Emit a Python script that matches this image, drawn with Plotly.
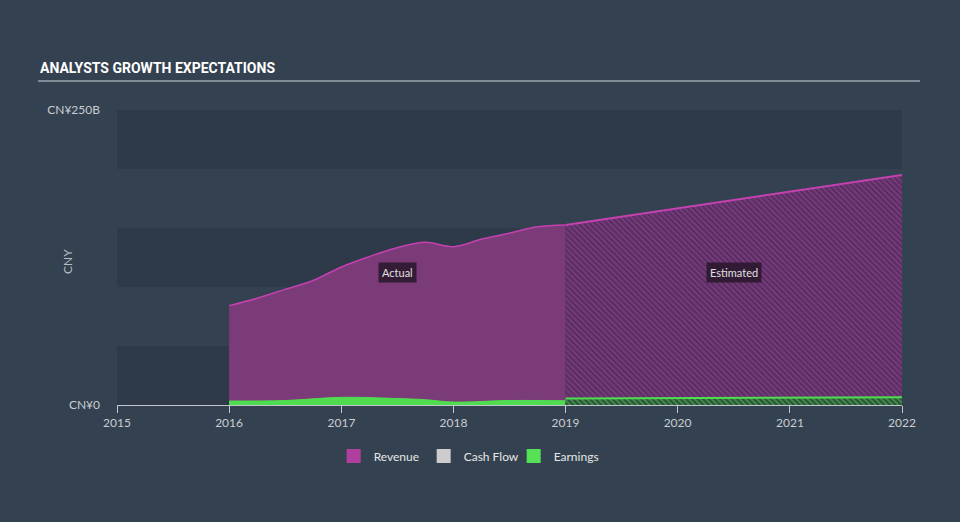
import plotly.graph_objects as go

# ---- data (CNY billions) ----
rev_actual_dates = ["2016-01-01", "2016-04-01", "2016-07-01", "2016-10-01", "2017-01-01",
                    "2017-04-01", "2017-07-01", "2017-10-01", "2018-01-01", "2018-04-01",
                    "2018-07-01", "2018-10-01", "2019-01-01"]
rev_actual = [84.2, 90.4, 98.0, 105.5, 117.0, 125.7, 133.3, 137.9, 134.2, 140.4, 145.5, 151.0, 152.5]

est_dates = ["2019-01-01", "2020-01-01", "2021-01-01", "2022-01-01"]
rev_est = [152.5, 166.8, 180.8, 195.0]

earn_actual_dates = ["2016-01-01", "2016-07-01", "2017-01-01", "2017-07-01", "2017-10-01",
                     "2018-01-01", "2018-07-01", "2019-01-01"]
earn_actual = [3.4, 3.8, 6.5, 5.5, 4.5, 2.5, 3.8, 3.6]
earn_est = [5.5, 5.8, 6.2, 6.5]

year_ticks = ["2015-01-01", "2016-01-01", "2017-01-01", "2018-01-01", "2019-01-01",
              "2020-01-01", "2021-01-01", "2022-01-01"]
year_labels = ["2015", "2016", "2017", "2018", "2019", "2020", "2021", "2022"]
y_tickvals = [0, 250]
y_ticktext = ["CN¥0", "CN¥250B"]
band_edges = [0, 50, 100, 150, 200, 250]

BG = "#344150"
BAND = "#2e3a49"
REV_LINE = "#c442b0"
REV_FILL = "#7b3a78"
EARN = "#50dc50"
FONT = "Lato, 'Open Sans', sans-serif"

fig = go.Figure()

# Revenue actual
fig.add_trace(go.Scatter(x=rev_actual_dates, y=rev_actual, mode="lines", fill="tozeroy",
                         fillcolor=REV_FILL, line=dict(color=REV_LINE, width=1.5, shape="spline", smoothing=1.0),
                         showlegend=False, hoverinfo="skip"))
# Revenue estimated (hatched)
fig.add_trace(go.Scatter(x=est_dates, y=rev_est, mode="lines", fill="tozeroy",
                         fillpattern=dict(shape="\\", fgcolor="#a83fa3", bgcolor="#52305c", size=4, solidity=0.5),
                         line=dict(color=REV_LINE, width=2),
                         showlegend=False, hoverinfo="skip"))
# Earnings actual
fig.add_trace(go.Scatter(x=earn_actual_dates, y=earn_actual, mode="lines", fill="tozeroy",
                         fillcolor=EARN, line=dict(color=EARN, width=1, shape="spline", smoothing=1.0),
                         showlegend=False, hoverinfo="skip"))
# Earnings estimated (hatched)
fig.add_trace(go.Scatter(x=est_dates, y=earn_est, mode="lines", fill="tozeroy",
                         fillpattern=dict(shape="\\", fgcolor=EARN, bgcolor="#2f4a3c", size=4, solidity=0.5),
                         line=dict(color=EARN, width=2),
                         showlegend=False, hoverinfo="skip"))

# Legend entries
for name, col in [("Revenue", "#b0409f"), ("Cash Flow", "#cccccc"), ("Earnings", "#55e055")]:
    fig.add_trace(go.Scatter(x=[None], y=[None], mode="markers", name=name,
                             marker=dict(symbol="square", size=14, color=col), showlegend=True))

shapes = []
for i in range(0, len(band_edges) - 1, 2):
    shapes.append(dict(type="rect", xref="paper", yref="y", x0=0, x1=1,
                       y0=band_edges[i], y1=band_edges[i + 1],
                       fillcolor=BAND, line=dict(width=0), layer="below"))
# title underline
shapes.append(dict(type="line", xref="paper", yref="paper", x0=-0.1006, x1=1.0229, y0=1.098, y1=1.098,
                   line=dict(color="#9aa3ad", width=1.5)))

annotations = [
    dict(text="<b>ANALYSTS GROWTH EXPECTATIONS</b>", xref="paper", yref="paper", x=-0.1006, y=1.142,
         xanchor="left", yanchor="middle", showarrow=False,
         font=dict(family="Roboto, sans-serif", size=14, color="#ffffff")),
    dict(text="CNY", xref="paper", yref="paper", x=-0.0624, y=0.485, textangle=-90, showarrow=False,
         xanchor="center", yanchor="middle", font=dict(family=FONT, size=12, color="#b8bec5")),
    dict(text="Actual", x="2017-07-02", y=0.45, xref="x", yref="paper", showarrow=False,
         bgcolor="rgba(40,22,42,0.85)", borderpad=3, font=dict(family=FONT, size=11, color="#e0e0e0")),
    dict(text="Estimated", x="2020-07-02", y=0.45, xref="x", yref="paper", showarrow=False,
         bgcolor="rgba(40,22,42,0.85)", borderpad=3, font=dict(family=FONT, size=11, color="#e0e0e0")),
]

fig.update_layout(
    width=960, height=522,
    paper_bgcolor=BG, plot_bgcolor=BG,
    margin=dict(l=117, r=58, t=110, b=117),
    shapes=shapes, annotations=annotations,
    font=dict(family=FONT, size=12, color="#c8cdd2"),
    legend=dict(orientation="h", x=0.448, y=-0.173, xanchor="center", yanchor="middle",
                font=dict(family=FONT, size=12, color="#e6e6e6"), bgcolor="rgba(0,0,0,0)",
                entrywidth=45, entrywidthmode="pixels"),
    xaxis=dict(type="date", range=["2015-01-01", "2022-01-01"], tickvals=year_ticks, ticktext=year_labels,
               showgrid=False, zeroline=False, showline=True, linecolor="#c0c6cc", linewidth=1,
               ticks="outside", ticklen=7, tickcolor="#c0c6cc",
               tickfont=dict(family=FONT, size=12, color="#c8cdd2")),
    yaxis=dict(range=[0, 250], tickvals=y_tickvals, ticktext=y_ticktext, showgrid=False, zeroline=False,
               showline=False, ticks="", ticklabelstandoff=16,
               tickfont=dict(family=FONT, size=12, color="#c8cdd2")),
    hovermode=False,
)

fig.write_html("out.html")
